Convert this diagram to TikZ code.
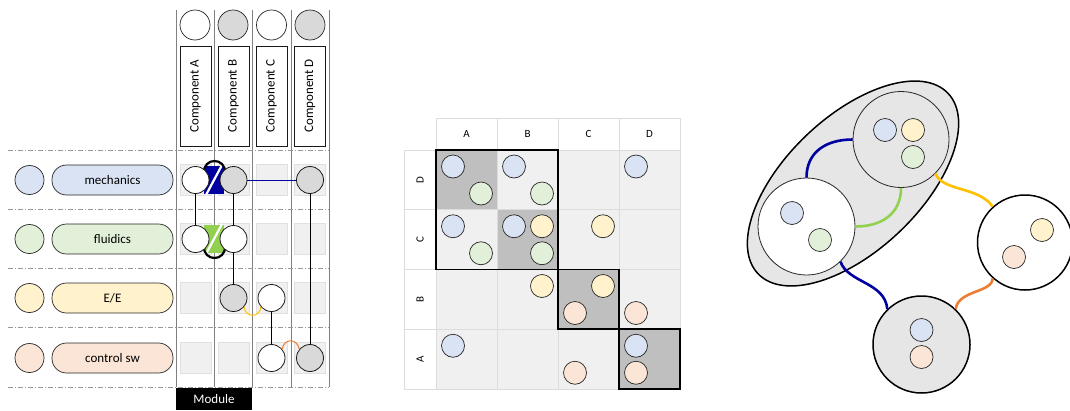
\documentclass[tikz,border=0pt]{standalone}
\usepackage{fontspec}
\setmainfont{Carlito}
\usetikzlibrary{shapes.geometric}
\definecolor{blueL}{HTML}{DAE3F3}
\definecolor{greenL}{HTML}{E2F0D9}
\definecolor{yellowL}{HTML}{FFF2CC}
\definecolor{peachL}{HTML}{FBE5D6}
\definecolor{cellF}{HTML}{F0F0F0}
\definecolor{cellD}{HTML}{E0E0E0}
\definecolor{darkG}{HTML}{BFBFBF}
\definecolor{circG}{HTML}{D9D9D9}
\definecolor{ellG}{HTML}{E6E6E6}
\definecolor{navy}{HTML}{0000A0}
\definecolor{lgreen}{HTML}{92D050}
\definecolor{gold}{HTML}{FFC000}
\definecolor{orng}{HTML}{ED7D31}
\definecolor{gridL}{HTML}{DCDCDC}
\begin{document}
\begin{tikzpicture}[x=1pt,y=-1pt,
  legc/.style={circle,draw=black!85,line width=0.7pt,minimum size=29pt,inner sep=0pt},
  pill/.style={rectangle,rounded corners=14.5pt,draw=black!85,line width=0.7pt,minimum width=121pt,minimum height=30pt,inner sep=0pt,font=\fontsize{13}{15}\selectfont},
  colline/.style={draw=black!50,line width=0.7pt},
  rowline/.style={draw=black!40,line width=0.7pt,dash pattern=on 5pt off 2pt on 1pt off 2pt},
  cellbox/.style={rectangle,fill=cellF,draw=cellD,line width=0.6pt,minimum size=31pt,inner sep=0pt},
  hcirc/.style={circle,draw=black!85,line width=0.7pt,minimum size=30pt,inner sep=0pt},
  ccirc/.style={circle,draw=black!90,line width=0.8pt,minimum size=27pt,inner sep=0pt},
  compbox/.style={rectangle,draw=black!90,line width=0.8pt,rotate=90,minimum width=100pt,minimum height=31pt,inner sep=0pt,font=\fontsize{13}{15}\selectfont},
  conn/.style={draw=black,line width=0.8pt},
  mc/.style={circle,draw=black!85,line width=0.7pt,minimum size=23pt,inner sep=0pt},
  mlet/.style={font=\fontsize{11}{13}\selectfont,inner sep=0pt},
  grid/.style={draw=gridL,line width=0.7pt},
  blk/.style={draw=black,line width=1.6pt},
  big/.style={circle,line width=1.5pt,draw=black,minimum size=96pt,inner sep=0pt},
  thin/.style={circle,line width=0.8pt,draw=black!85,minimum size=96pt,inner sep=0pt},
  wire/.style={line width=2.6pt}
]
\useasboundingbox (0,0) rectangle (1070,410);

% ---------------- left part ----------------
\foreach \x in {176,214,252,291,329} \draw[colline] (\x,10) -- (\x,387);
\foreach \y in {150,209,268,327,387} \draw[rowline] (8,\y) -- (329,\y);

% header circles and component boxes
\node[hcirc,fill=white] (hA) at (195,25) {};
\node[hcirc,fill=circG] (hB) at (233,25) {};
\node[hcirc,fill=white] (hC) at (271.5,25) {};
\node[hcirc,fill=circG] (hD) at (310,25) {};
\node[compbox] (kA) at (195.5,96) {Component A};
\node[compbox] (kB) at (233.5,96) {Component B};
\node[compbox] (kC) at (271.5,96) {Component C};
\node[compbox] (kD) at (310,96) {Component D};

% legend
\node[legc,fill=blueL] (lm) at (29.5,180) {};
\node[legc,fill=greenL] (lf) at (29.5,239) {};
\node[legc,fill=yellowL] (le) at (29.5,298) {};
\node[legc,fill=peachL] (lc) at (29.5,358) {};
\node[pill,fill=blueL] (pm) at (112.5,180) {mechanics};
\node[pill,fill=greenL] (pf) at (112.5,239) {fluidics};
\node[pill,fill=yellowL] (pe) at (112.5,298) {E/E};
\node[pill,fill=peachL] (pc) at (112.5,358) {control sw};

% cells
\foreach \x/\c in {195.5/A,233.5/B,271.5/C,310/D}
  \foreach \y/\r in {180/m,239/f,298/e,358/c}
    \node[cellbox] (cell\r\c) at (\x,\y) {};

% interface patches
\fill[navy] (204,166) rectangle (224,194);
\draw[white,line width=2.2pt] (206,195) -- (222,165);
\draw[line width=2.2pt] (204,173) .. controls (203,157) and (226,157) .. (225,173);
\fill[lgreen] (204,225) rectangle (224,253);
\draw[white,line width=2.2pt] (206,254) -- (222,224);
\draw[line width=2.2pt] (204,246) .. controls (203,262) and (226,262) .. (225,246);

% circles in cells
\node[ccirc,fill=white] (mA) at (195.5,180) {};
\node[ccirc,fill=circG] (mB) at (233.5,180) {};
\node[ccirc,fill=circG] (mD) at (310,180) {};
\node[ccirc,fill=white] (fA) at (195.5,239) {};
\node[ccirc,fill=white] (fB) at (233.5,239) {};
\node[ccirc,fill=circG] (eB) at (233.5,298) {};
\node[ccirc,fill=white] (eC) at (271.5,298) {};
\node[ccirc,fill=white] (cC) at (271.5,358) {};
\node[ccirc,fill=circG] (cD) at (310,358) {};

\draw[conn] (mA.south) -- (fA.north);
\draw[conn] (mB.south) -- (fB.north);
\draw[conn] (fB.south) -- (eB.north);
\draw[conn] (mD.south) -- (cD.north);
\draw[conn] (eC.south) -- (cC.north);
\draw[navy,line width=1pt] (mB.east) -- (mD.west);
\draw[gold,line width=1pt] (eB.-40) .. controls (245,318) and (260,318) .. (eC.220);
\draw[orng,line width=1pt] (cC.40) .. controls (284,338) and (297,338) .. (cD.140);

\node[fill=black,text=white,minimum width=76pt,minimum height=22pt,inner sep=0pt,font=\fontsize{13}{15}\selectfont] (mod) at (214,399) {Module};

% ---------------- matrix ----------------
\fill[cellF] (436,150) rectangle (680,389);
\fill[darkG] (436,150) rectangle (497,209.75);
\fill[darkG] (497,209.75) rectangle (558,269.5);
\fill[darkG] (558,269.5) rectangle (619,329.25);
\fill[darkG] (619,329.25) rectangle (680,389);
\draw[grid] (436,118) -- (680,118);
\foreach \y in {150,209.75,269.5,329.25,389} \draw[grid] (404,\y) -- (680,\y);
\draw[grid] (404,150) -- (404,389);
\foreach \x in {436,497,558,619,680} \draw[grid] (\x,118) -- (\x,389);
\draw[blk] (436,150) rectangle (558,269.5);
\draw[blk] (558,269.5) rectangle (619,329.25);
\draw[blk] (619,329.25) rectangle (680,389);

\node[mlet] (xA) at (466.5,134) {A};
\node[mlet] (xB) at (527.5,134) {B};
\node[mlet] (xC) at (588.5,134) {C};
\node[mlet] (xD) at (649.5,134) {D};
\node[mlet,rotate=90] (yD) at (420,180) {D};
\node[mlet,rotate=90] (yC) at (420,239.6) {C};
\node[mlet,rotate=90] (yB) at (420,299.4) {B};
\node[mlet,rotate=90] (yA) at (420,359.1) {A};

% row D
\node[mc,fill=blueL] (dA1) at (453,166.5) {};
\node[mc,fill=greenL] (dA2) at (481,193.5) {};
\node[mc,fill=blueL] (dB1) at (514,166.5) {};
\node[mc,fill=greenL] (dB2) at (542,193.5) {};
\node[mc,fill=blueL] (dD1) at (636,166.5) {};
% row C
\node[mc,fill=blueL] (cA1) at (453,226.25) {};
\node[mc,fill=greenL] (cA2) at (481,253.25) {};
\node[mc,fill=blueL] (cB1) at (514,226.25) {};
\node[mc,fill=yellowL] (cB2) at (542,226.25) {};
\node[mc,fill=greenL] (cB3) at (542,253.25) {};
\node[mc,fill=yellowL] (cC1) at (603,226.25) {};
% row B
\node[mc,fill=yellowL] (bB1) at (542,286) {};
\node[mc,fill=yellowL] (bC1) at (603,286) {};
\node[mc,fill=peachL] (bC2) at (575,313) {};
\node[mc,fill=peachL] (bD1) at (636,313) {};
% row A
\node[mc,fill=blueL] (aA1) at (453,345.75) {};
\node[mc,fill=peachL] (aC1) at (575,372.75) {};
\node[mc,fill=blueL] (aD1) at (636,345.75) {};
\node[mc,fill=peachL] (aD2) at (636,372.75) {};

% ---------------- right graph ----------------
\node[ellipse,draw=black,line width=1.5pt,fill=ellG,minimum width=262pt,minimum height=134pt,inner sep=0pt,rotate=43.5] (grp) at (853,183.5) {};
\node[thin,fill=ellG] (T) at (901,139.5) {};
\node[thin,fill=white,minimum size=97pt] (L) at (806.5,226.5) {};
\node[big,fill=white,minimum size=95pt] (R) at (1025,242.5) {};
\node[big,fill=ellG,minimum size=97pt] (B) at (921.5,344.5) {};

\node[mc,fill=blueL] (t1) at (885,130) {};
\node[mc,fill=yellowL] (t2) at (913,130) {};
\node[mc,fill=greenL] (t3) at (913,157) {};
\node[mc,fill=blueL] (l1) at (792,213) {};
\node[mc,fill=greenL] (l2) at (820,240) {};
\node[mc,fill=yellowL] (r1) at (1042,230) {};
\node[mc,fill=peachL] (r2) at (1014,257) {};
\node[mc,fill=blueL] (b1) at (921.5,330) {};
\node[mc,fill=peachL] (b2) at (921.5,357) {};

\draw[wire,navy] (L.90) .. controls +(0,-26) and +(-26,0) .. (T.180);
\draw[wire,lgreen] (T.270) .. controls +(0,26) and +(26,0) .. (L.0);
\draw[wire,gold] (T.-45) .. controls (944,192) and (978,186) .. (R.132);
\draw[wire,navy] (L.-46) .. controls (848,283) and (885,282) .. (B.134);
\draw[wire,orng] (B.46) .. controls (958,290) and (992,293) .. (R.228);
\end{tikzpicture}
\end{document}
